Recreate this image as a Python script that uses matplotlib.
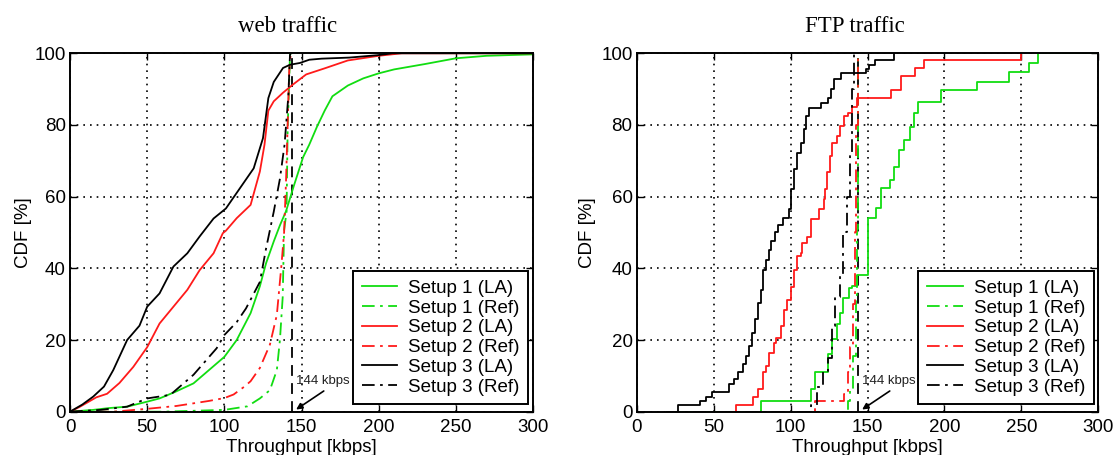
import numpy as np
import matplotlib
matplotlib.use('Agg')
import matplotlib.pyplot as plt

# ---- web traffic (left panel) ----
web_s1_la_x = [0, 15, 25, 37, 50, 58, 68, 80, 90, 100, 108, 117, 123, 127, 132, 136,
               140, 145, 151, 155, 160, 165, 170, 180, 190, 200, 210, 230, 250, 270, 300]
web_s1_la_y = [0, 0.5, 1, 1.4, 2.8, 3.7, 5.5, 7.9, 11.6, 15.3, 20, 27.5, 35, 41.4, 47.5, 52,
               56, 63, 71, 74.5, 79.5, 84, 88, 91, 93, 94.4, 95.5, 97, 98.6, 99.3, 99.7]
web_s1_ref_x = [0, 60, 100, 115, 123, 129.5, 134, 136, 137.8, 138.7, 140.3, 141, 142, 142.5, 143]
web_s1_ref_y = [0, 0, 0.5, 1.5, 3.7, 6, 11.6, 20, 32, 50.6, 55.8, 79, 92, 99.5, 100]
web_s2_la_x = [0, 6.5, 17, 24, 32, 41, 50, 58, 67, 76, 84, 93, 99, 101, 108, 117, 123, 126,
               128.5, 132, 138, 144.5, 153, 165, 180, 200, 215, 300]
web_s2_la_y = [0, 1.4, 4, 5, 8, 12.5, 18, 24.6, 29.3, 34, 39.5, 44.2, 49.8, 50.5, 54, 57.7, 67,
               74.5, 84, 86.6, 89, 91.3, 94.1, 95.8, 98, 99.3, 100, 100]
web_s2_ref_x = [0, 28, 50, 69, 90, 100, 106, 113, 117, 123, 129.5, 134, 137, 138.7, 140, 141, 142, 143]
web_s2_ref_y = [0, 0, 0.8, 1.6, 3, 3.8, 4.8, 7, 8.5, 12.2, 18.7, 27, 41, 50, 65, 80, 95, 100]
web_s3_la_x = [0, 8, 15, 22, 28, 37, 45, 50, 58, 67, 76, 84, 93, 101, 110, 119, 125, 128.5,
               132, 138, 142.5, 149, 155, 163, 181, 200, 209, 300]
web_s3_la_y = [0, 2, 4.2, 7, 11.6, 20, 24, 29.3, 33, 40.5, 44.2, 48.9, 53.9, 56.7, 62.3, 67.9,
               76.3, 87.5, 92, 95.9, 96.8, 97.3, 98.2, 98.5, 98.8, 99.5, 100, 100]
web_s3_ref_x = [0, 20, 37, 50, 65, 80, 95, 100, 108, 114, 123, 127, 132, 136, 139, 141.5, 142.5, 143]
web_s3_ref_y = [0, 0.5, 1.4, 3.7, 4.7, 10.3, 17.7, 21.4, 25, 28.8, 36.2, 45.5, 55.8, 65, 74.5,
                88.4, 99.5, 100]

# ---- FTP traffic (right panel), step curves ----
ftp_s1_la_x = [20, 81, 113, 116, 124, 127, 130, 132, 134, 138, 140, 143, 150, 155.5, 159, 164.8,
               167, 170.5, 174, 177.5, 180, 183, 198, 221, 242, 255, 261, 300]
ftp_s1_la_y = [0, 3, 6.4, 11, 16, 20.2, 24.4, 27.6, 31.7, 34.5, 35, 38, 54, 56.7, 62.3, 64.6,
               68.3, 73, 75.8, 79.5, 83.2, 86.5, 89.7, 92, 94.9, 97.2, 100, 100]
ftp_s1_ref_x = [20, 137.5, 138.6, 140.8, 142.3, 143.1, 143.5, 144]
ftp_s1_ref_y = [0, 3, 6.4, 15.6, 32.5, 51, 80, 100]
ftp_s2_la_x = [60, 64.7, 75.4, 78.7, 82, 84, 86.2, 89.4, 90.5, 93.7, 95.8, 98, 100, 102.3, 104.4,
               106.6, 107.6, 110.8, 113, 118.3, 121.5, 122.6, 123.7, 125.8, 126.9, 130.1, 132.2,
               134.4, 137.6, 140, 143, 165, 171.7, 181, 186.7, 250]
ftp_s2_la_y = [0, 1.8, 4.1, 6.4, 11, 12.8, 16.5, 19.3, 20.6, 23.9, 28.5, 31.2, 34.9, 39.6, 43.3,
               44.2, 47, 48.8, 53.8, 56.6, 59.4, 62.2, 66.8, 71.4, 75.1, 76.9, 79.7, 82.5, 83.4,
               85, 87.4, 89.7, 93.7, 95.8, 98.1, 100]
ftp_s2_ref_x = [20, 116, 135, 137.5, 138.6, 140.8, 142, 142.8, 143.5]
ftp_s2_ref_y = [0, 3, 5, 11, 18, 30, 50, 80, 100]
ftp_s3_la_x = [20, 27, 41, 45, 49, 60, 63, 66, 69, 71, 73, 75, 77, 79, 81, 82, 84, 86, 87, 90,
               92, 95, 99, 100, 102, 104, 107, 109, 110, 112, 120, 124, 126, 128, 133, 149, 151,
               155, 167]
ftp_s3_la_y = [0, 1.8, 3, 4.1, 5.5, 7.8, 9.2, 11, 13.3, 15.6, 18.4, 22, 25.8, 30.4, 34, 39.6,
               42.4, 45, 47.5, 50, 52, 54, 56.6, 62, 67.7, 72.3, 75, 79, 82.5, 84.6, 86.2, 87.6,
               90, 92.7, 94.5, 95.5, 96.8, 98.2, 100]
ftp_s3_ref_x = [20, 113, 117, 121, 124, 127, 129, 132, 134, 136.5, 138.5, 140, 141.2]
ftp_s3_ref_y = [0, 2, 7, 11, 15, 24, 32, 38, 50, 60, 72, 90, 100]

labels = ['Setup 1 (LA)', 'Setup 1 (Ref)', 'Setup 2 (LA)', 'Setup 2 (Ref)',
          'Setup 3 (LA)', 'Setup 3 (Ref)']
colors = ['#11dd11', '#11dd11', '#ff1a1a', '#ff1a1a', 'black', 'black']
ref_rate = 144

DASHDOT = (0, (7, 3, 1.5, 3))
FS = 13.5
plt.rcParams['font.family'] = ['Liberation Sans', 'DejaVu Sans']


def style_axes(ax):
    ax.set_xlim(0, 300)
    ax.set_ylim(0, 100)
    ax.set_xticks(np.arange(0, 301, 50))
    ax.set_yticks(np.arange(0, 101, 20))
    ax.tick_params(direction='in', length=5, width=1, top=True, right=True,
                   labelsize=FS, colors='black')
    ax.tick_params(axis='x', pad=5)
    ax.tick_params(axis='y', pad=3)
    ax.grid(True, color='black', linestyle=(0, (1, 3)), linewidth=1.2)
    for sp in ax.spines.values():
        sp.set_linewidth(1.4)
        sp.set_color('black')
        sp.set_zorder(5)


def draw_panel(ax, series, title, step, title_x, ylab_x):
    ds = 'steps-post' if step else 'default'
    for (x, y), lab, col in zip(series, labels, colors):
        ls = '-' if 'LA' in lab else DASHDOT
        ax.plot(x, y, color=col, linestyle=ls, linewidth=1.3, label=lab,
                drawstyle=ds, zorder=3)
    ax.axvline(ref_rate, color='black', linestyle=(0, (6, 4)), linewidth=1.3, zorder=2)
    ax.annotate('144 kbps', xy=(146.5, 0.6), xytext=(146.3, 7.6), fontsize=9.5,
                color='#222222',
                arrowprops=dict(arrowstyle='-|>', color='black', lw=1.2,
                                mutation_scale=9, relpos=(0.62, 0.0),
                                shrinkA=1, shrinkB=0))
    style_axes(ax)
    ax.text(title_x, 1.06, title, transform=ax.transAxes, ha='center',
            va='baseline', fontsize=16.5, family='Liberation Serif')
    ax.set_ylabel('CDF [%]', fontsize=FS)
    ax.yaxis.set_label_coords(ylab_x, 0.5)
    ax.set_xlabel('Throughput [kbps]', fontsize=FS)
    ax.xaxis.set_label_coords(0.5, -0.075)
    leg = ax.legend(loc='lower right', bbox_to_anchor=(0.99, 0.021),
                    borderaxespad=0, fontsize=FS, fancybox=False,
                    framealpha=1, edgecolor='black', handlelength=1.9,
                    handletextpad=0.6, labelspacing=0.14, borderpad=0.45)
    leg.get_frame().set_linewidth(1.4)
    leg.set_zorder(6)


fig = plt.figure(figsize=(11.17, 4.55), dpi=100)
ax1 = fig.add_axes([0.0627, 0.0952, 0.4145, 0.7877])
ax2 = fig.add_axes([0.5700, 0.0952, 0.4133, 0.7877])

web = [(web_s1_la_x, web_s1_la_y), (web_s1_ref_x, web_s1_ref_y),
       (web_s2_la_x, web_s2_la_y), (web_s2_ref_x, web_s2_ref_y),
       (web_s3_la_x, web_s3_la_y), (web_s3_ref_x, web_s3_ref_y)]
ftp = [(ftp_s1_la_x, ftp_s1_la_y), (ftp_s1_ref_x, ftp_s1_ref_y),
       (ftp_s2_la_x, ftp_s2_la_y), (ftp_s2_ref_x, ftp_s2_ref_y),
       (ftp_s3_la_x, ftp_s3_la_y), (ftp_s3_ref_x, ftp_s3_ref_y)]

draw_panel(ax1, web, 'web traffic', False, 0.469, -0.082)
draw_panel(ax2, ftp, 'FTP traffic', True, 0.473, -0.089)

fig.savefig('out.png', dpi=100)
